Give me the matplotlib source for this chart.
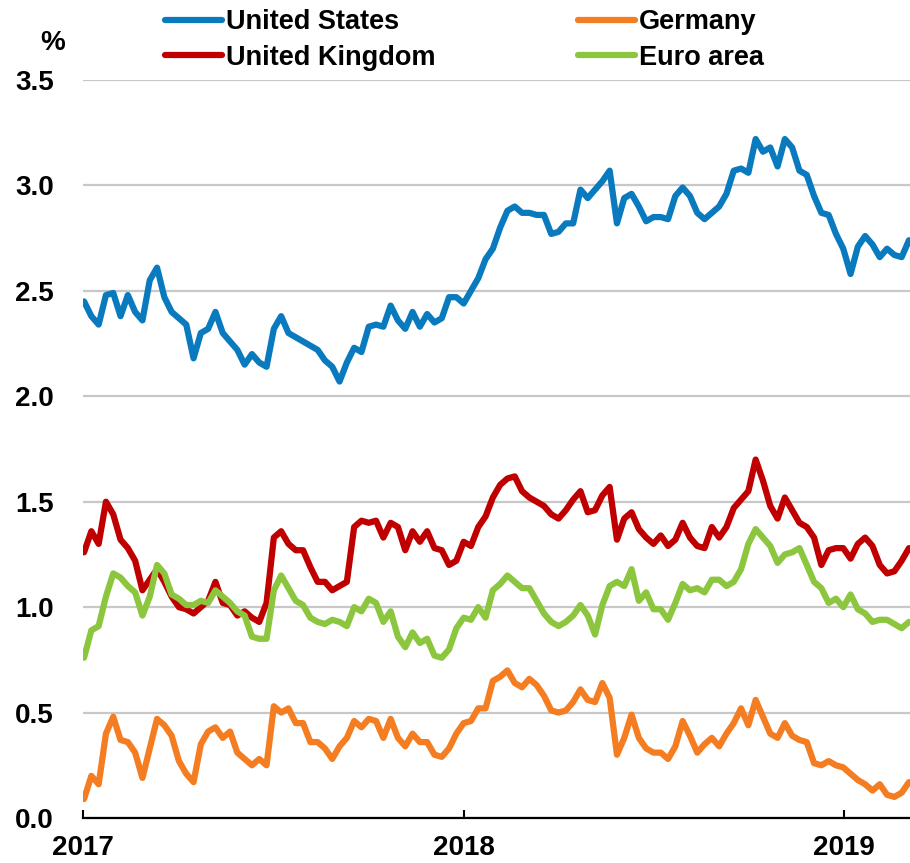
import matplotlib
matplotlib.use("Agg")
import matplotlib.pyplot as plt
import matplotlib.dates as mdates
import pandas as pd

# weekly readings, Jan 2017 - early Mar 2019 (10-year government bond yields, %)
dates = pd.date_range("2017-01-02", periods=114, freq="7D")

us = [2.45, 2.38, 2.34, 2.48, 2.49, 2.38, 2.48, 2.40, 2.36, 2.55,
      2.61, 2.47, 2.40, 2.37, 2.34, 2.18, 2.30, 2.32, 2.40, 2.30,
      2.26, 2.22, 2.15, 2.20, 2.16, 2.14, 2.32, 2.38, 2.30, 2.28,
      2.26, 2.24, 2.22, 2.17, 2.14, 2.07, 2.16, 2.23, 2.21, 2.33,
      2.34, 2.33, 2.43, 2.36, 2.32, 2.40, 2.33, 2.39, 2.35, 2.37,
      2.47, 2.47, 2.44, 2.50, 2.56, 2.65, 2.70, 2.80, 2.88, 2.90,
      2.87, 2.87, 2.86, 2.86, 2.77, 2.78, 2.82, 2.82, 2.98, 2.94,
      2.98, 3.02, 3.07, 2.82, 2.94, 2.96, 2.90, 2.83, 2.85, 2.85,
      2.84, 2.95, 2.99, 2.95, 2.87, 2.84, 2.87, 2.90, 2.96, 3.07,
      3.08, 3.06, 3.22, 3.16, 3.18, 3.09, 3.22, 3.18, 3.07, 3.05,
      2.95, 2.87, 2.86, 2.77, 2.70, 2.58, 2.71, 2.76, 2.72, 2.66,
      2.70, 2.67, 2.66, 2.74]

uk = [1.26, 1.36, 1.30, 1.50, 1.44, 1.32, 1.28, 1.22, 1.08, 1.13,
      1.18, 1.12, 1.05, 1.00, 0.99, 0.97, 1.00, 1.03, 1.12, 1.02,
      1.01, 0.96, 0.98, 0.95, 0.93, 1.02, 1.33, 1.36, 1.30, 1.27,
      1.27, 1.19, 1.12, 1.12, 1.08, 1.10, 1.12, 1.38, 1.41, 1.40,
      1.41, 1.33, 1.40, 1.38, 1.27, 1.36, 1.31, 1.36, 1.28, 1.27,
      1.20, 1.22, 1.31, 1.29, 1.38, 1.43, 1.52, 1.58, 1.61, 1.62,
      1.55, 1.52, 1.50, 1.48, 1.44, 1.42, 1.46, 1.51, 1.55, 1.45,
      1.46, 1.53, 1.57, 1.32, 1.42, 1.45, 1.37, 1.33, 1.30, 1.34,
      1.29, 1.32, 1.40, 1.33, 1.29, 1.28, 1.38, 1.33, 1.38, 1.47,
      1.51, 1.55, 1.70, 1.60, 1.48, 1.42, 1.52, 1.46, 1.40, 1.38,
      1.33, 1.20, 1.27, 1.28, 1.28, 1.23, 1.30, 1.33, 1.29, 1.20,
      1.16, 1.17, 1.22, 1.28]

germany = [0.09, 0.20, 0.16, 0.40, 0.48, 0.37, 0.36, 0.31, 0.19, 0.33,
           0.47, 0.44, 0.39, 0.27, 0.21, 0.17, 0.35, 0.41, 0.43, 0.38,
           0.41, 0.31, 0.28, 0.25, 0.28, 0.25, 0.53, 0.50, 0.52, 0.45,
           0.45, 0.36, 0.36, 0.33, 0.28, 0.34, 0.38, 0.46, 0.43, 0.47,
           0.46, 0.38, 0.47, 0.38, 0.34, 0.40, 0.36, 0.36, 0.30, 0.29,
           0.33, 0.40, 0.45, 0.46, 0.52, 0.52, 0.65, 0.67, 0.70, 0.64,
           0.62, 0.66, 0.63, 0.58, 0.51, 0.50, 0.51, 0.55, 0.61, 0.56,
           0.55, 0.64, 0.57, 0.30, 0.38, 0.49, 0.38, 0.33, 0.31, 0.31,
           0.28, 0.34, 0.46, 0.39, 0.31, 0.35, 0.38, 0.34, 0.40, 0.45,
           0.52, 0.44, 0.56, 0.48, 0.40, 0.38, 0.45, 0.39, 0.37, 0.36,
           0.26, 0.25, 0.27, 0.25, 0.24, 0.21, 0.18, 0.16, 0.13, 0.16,
           0.11, 0.10, 0.12, 0.17]

euro = [0.76, 0.89, 0.91, 1.05, 1.16, 1.14, 1.10, 1.07, 0.96, 1.05,
        1.20, 1.16, 1.06, 1.04, 1.01, 1.01, 1.03, 1.02, 1.08, 1.05,
        1.02, 0.98, 0.96, 0.86, 0.85, 0.85, 1.08, 1.15, 1.09, 1.03,
        1.01, 0.95, 0.93, 0.92, 0.94, 0.93, 0.91, 1.00, 0.98, 1.04,
        1.02, 0.93, 0.98, 0.86, 0.81, 0.88, 0.83, 0.85, 0.77, 0.76,
        0.80, 0.90, 0.95, 0.94, 1.00, 0.95, 1.08, 1.11, 1.15, 1.12,
        1.09, 1.09, 1.03, 0.97, 0.93, 0.91, 0.93, 0.96, 1.01, 0.96,
        0.87, 1.01, 1.10, 1.12, 1.10, 1.18, 1.03, 1.07, 0.99, 0.99,
        0.94, 1.02, 1.11, 1.08, 1.09, 1.07, 1.13, 1.13, 1.10, 1.12,
        1.18, 1.30, 1.37, 1.33, 1.29, 1.21, 1.25, 1.26, 1.28, 1.20,
        1.12, 1.09, 1.02, 1.04, 1.00, 1.06, 0.99, 0.97, 0.93, 0.94,
        0.94, 0.92, 0.90, 0.93]

series = [("United States", us, "#0a7abf"),
          ("United Kingdom", uk, "#c00000"),
          ("Germany", germany, "#f47d22"),
          ("Euro area", euro, "#8cc63f")]

plt.rcParams["font.family"] = ["Liberation Sans", "DejaVu Sans"]
plt.rcParams["font.weight"] = "bold"

fig, ax = plt.subplots(figsize=(9.1, 8.63), dpi=100)
fig.subplots_adjust(left=83 / 910, right=1.0, bottom=1 - 818 / 863, top=1 - 80 / 863)

lines = []
for name, vals, col in series:
    ln, = ax.plot(dates, vals, color=col, lw=4.5, label=name, solid_capstyle="round")
    lines.append(ln)

ax.set_ylim(0, 3.5)
ax.set_yticks([0, 0.5, 1.0, 1.5, 2.0, 2.5, 3.0, 3.5])
ax.yaxis.set_major_formatter(matplotlib.ticker.FormatStrFormatter("%.1f"))
ax.set_xlim(pd.Timestamp("2017-01-01"), pd.Timestamp("2019-03-05"))
ax.xaxis.set_major_locator(mdates.YearLocator())
ax.xaxis.set_major_formatter(mdates.DateFormatter("%Y"))

ax.grid(axis="y", color="#c8c8c8", lw=1.6)
ax.set_axisbelow(True)
for s in ["left", "top", "right"]:
    ax.spines[s].set_visible(False)
ax.spines["bottom"].set_linewidth(1.6)

ax.tick_params(axis="y", length=0, pad=21, labelsize=20)
ax.tick_params(axis="x", direction="in", length=6, width=1.5, pad=12, labelsize=20)

fig.text(53 / 910, 1 - 43 / 863, "%", ha="center", va="center", fontsize=20, fontweight="bold")

# two legend columns, placed separately
leg_kw = dict(loc="upper left", bbox_transform=fig.transFigure, frameon=False, fontsize=19.5,
              handlelength=2.1, handletextpad=0.15, labelspacing=0.36, borderpad=0, borderaxespad=0)
leg1 = ax.legend(lines[:2], [s[0] for s in series[:2]], bbox_to_anchor=(165 / 910, 1 - 9 / 863), **leg_kw)
ax.add_artist(leg1)
ax.legend(lines[2:], [s[0] for s in series[2:]], bbox_to_anchor=(578 / 910, 1 - 9 / 863), **leg_kw)

fig.savefig("out.png", dpi=100)
